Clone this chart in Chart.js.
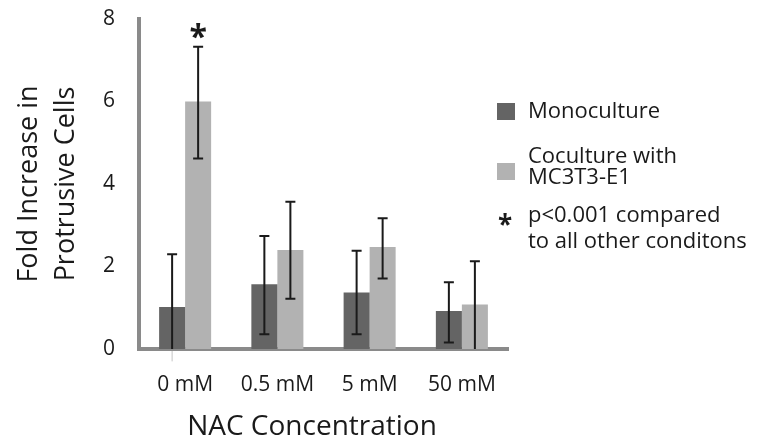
<!DOCTYPE html>
<html>
<head>
<meta charset="utf-8">
<script src="https://cdn.jsdelivr.net/npm/chart.js@4.4.1/dist/chart.umd.min.js"></script>
<style>
  html, body { margin: 0; padding: 0; background: #fff; }
  #wrap { width: 760px; height: 445px; position: relative; }
</style>
</head>
<body>
<div id="wrap"><canvas id="foldChart"></canvas></div>
<script>
const categories = ['0 mM', '0.5 mM', '5 mM', '50 mM'];
const monoculture = [1.02, 1.57, 1.37, 0.92];
const monoUpper = [2.30, 2.74, 2.38, 1.62];
const monoLower = [-0.30, 0.36, 0.36, 0.16];
const coculture = [6.00, 2.40, 2.47, 1.08];
const coUpper = [7.33, 3.57, 3.17, 2.13];
const coLower = [4.62, 1.22, 1.71, 0.00];
const coStars = [true, false, false, false];
const yTicks = [0, 2, 4, 6, 8];
const starNote = ['p<0.001 compared', 'to all other conditons'];

const FONT = '"Open Sans", "Liberation Sans", sans-serif';
const INK = '#1a1a1a';

// put the middle of a glyph's ink on (x, cy)
function drawCentered(ctx, txt, x, cy) {
  ctx.textBaseline = 'alphabetic';
  const m = ctx.measureText(txt);
  ctx.fillText(txt, x, cy + (m.actualBoundingBoxAscent - m.actualBoundingBoxDescent) / 2);
}

// error bars + significance stars on top of the bars
const errorBars = {
  id: 'errorBars',
  afterDatasetsDraw(chart) {
    const ctx = chart.ctx;
    const y = chart.scales.y;
    const base = y.getPixelForValue(0);
    chart.data.datasets.forEach((ds, i) => {
      chart.getDatasetMeta(i).data.forEach((bar, j) => {
        const top = y.getPixelForValue(ds.upper[j]);
        const lo = ds.lower[j];
        const bottom = y.getPixelForValue(Math.max(lo, 0));
        ctx.save();
        ctx.strokeStyle = INK;
        ctx.lineWidth = 2;
        ctx.beginPath();
        ctx.moveTo(bar.x, top);
        ctx.lineTo(bar.x, bottom);
        ctx.moveTo(bar.x - 5, top);
        ctx.lineTo(bar.x + 5, top);
        if (lo > 0) {
          ctx.moveTo(bar.x - 5, bottom);
          ctx.lineTo(bar.x + 5, bottom);
        }
        ctx.stroke();
        if (lo < 0) {
          // part of the bar below the axis is faint
          ctx.strokeStyle = '#c4c4c4';
          ctx.lineWidth = 1;
          ctx.beginPath();
          ctx.moveTo(bar.x, base + 2);
          ctx.lineTo(bar.x, y.getPixelForValue(lo));
          ctx.stroke();
        }
        if (ds.stars && ds.stars[j]) {
          ctx.fillStyle = INK;
          ctx.font = 'bold 32px ' + FONT;
          ctx.textAlign = 'center';
          drawCentered(ctx, '*', bar.x, top - 16);
        }
        ctx.restore();
      });
    });
  }
};

// legend on the right, with the note for the star
const sideLegend = {
  id: 'sideLegend',
  afterDraw(chart) {
    const ctx = chart.ctx;
    const ds = chart.data.datasets;
    ctx.save();
    ctx.font = '22px ' + FONT;
    ctx.fillStyle = INK;
    ctx.textAlign = 'left';
    ctx.textBaseline = 'alphabetic';

    ctx.fillStyle = ds[0].backgroundColor;
    ctx.fillRect(497, 103, 18, 17);
    ctx.fillStyle = INK;
    ctx.fillText(ds[0].label, 528, 118);

    ctx.fillStyle = ds[1].backgroundColor;
    ctx.fillRect(497, 163, 18, 17);
    ctx.fillStyle = INK;
    ctx.fillText(ds[1].legendLines[0], 528, 163);
    ctx.fillText(ds[1].legendLines[1], 528, 184);

    ctx.fillText(starNote[0], 528, 222);
    ctx.fillText(starNote[1], 528, 248);
    ctx.font = 'bold 26px ' + FONT;
    ctx.textAlign = 'center';
    drawCentered(ctx, '*', 505, 219);

    // x axis title
    ctx.font = '28px ' + FONT;
    ctx.textBaseline = 'middle';
    ctx.fillText('NAC Concentration', 312, 427);
    ctx.restore();
  }
};

const ctx = document.getElementById('foldChart').getContext('2d');
const foldChart = new Chart(ctx, {
  type: 'bar',
  data: {
    labels: categories,
    datasets: [
      {
        label: 'Monoculture',
        data: monoculture,
        upper: monoUpper,
        lower: monoLower,
        backgroundColor: '#646464',
      },
      {
        label: 'Coculture with MC3T3-E1',
        legendLines: ['Coculture with', 'MC3T3-E1'],
        data: coculture,
        upper: coUpper,
        lower: coLower,
        stars: coStars,
        backgroundColor: '#b2b2b2',
      },
    ],
  },
  options: {
    responsive: true,
    maintainAspectRatio: false,
    animation: false,
    layout: { padding: { top: 19, right: 252, left: 0, bottom: 0 } },
    datasets: {
      bar: { categoryPercentage: 0.564, barPercentage: 1.0 },
    },
    plugins: {
      legend: { display: false },
      tooltip: { enabled: false },
    },
    scales: {
      x: {
        z: 1,
        grid: { display: false, drawTicks: false },
        border: { display: true, color: '#8a8a8a', width: 4 },
        ticks: { padding: 23, color: INK, font: { family: FONT, size: 21 } },
        afterFit: (scale) => { scale.height = 96; },
      },
      y: {
        z: 1,
        min: 0,
        max: 8,
        grid: { display: false, drawTicks: false },
        border: { display: true, color: '#8a8a8a', width: 4 },
        afterBuildTicks: (scale) => { scale.ticks = yTicks.map((v) => ({ value: v })); },
        ticks: { padding: 24, color: INK, font: { family: FONT, size: 21 } },
        title: {
          display: true,
          text: ['Fold Increase in', 'Protrusive Cells'],
          color: INK,
          font: { family: FONT, size: 27, lineHeight: 1.37 },
          padding: { top: 11 },
        },
        afterFit: (scale) => {
          scale.width = 139;
          scale.paddingTop = 0;
          scale.paddingBottom = 0;
        },
      },
    },
  },
  plugins: [errorBars, sideLegend],
});
</script>
</body>
</html>
